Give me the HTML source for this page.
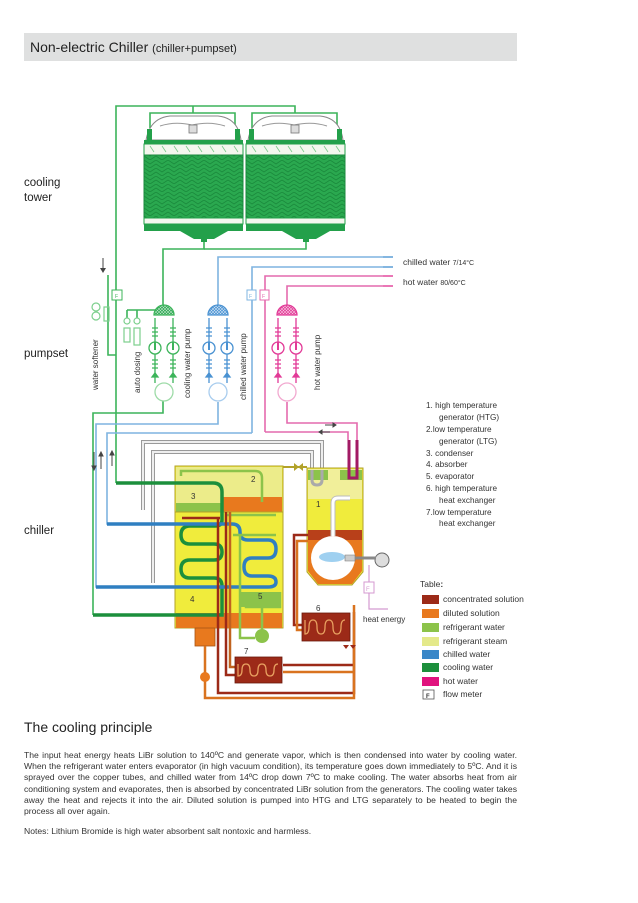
<!DOCTYPE html>
<html><head><meta charset="utf-8"><style>
html,body{margin:0;padding:0;background:#fff;}
body{width:638px;height:903px;position:relative;overflow:hidden;font-family:"Liberation Sans",sans-serif;color:#222;}
.hdr{position:absolute;left:24px;top:33px;width:493px;height:28px;background:#dfe0e0;}
.hdr span{position:absolute;left:6px;top:6px;font-size:14px;color:#222;}
.hdr small{font-size:11px;}
.lbl{position:absolute;left:24px;font-size:11.5px;line-height:15px;color:#222;}
.t2{position:absolute;left:24px;top:719px;font-size:14px;color:#222;}
.para{position:absolute;left:24px;top:750px;width:493px;font-size:8.6px;line-height:11.2px;text-align:justify;text-align-last:left;color:#333;}
.notes{position:absolute;left:24px;top:826px;font-size:8.6px;color:#333;}
svg{position:absolute;left:0;top:0;}
</style></head><body>
<div class="hdr"><span>Non-electric Chiller <small>(chiller+pumpset)</small></span></div>
<div class="lbl" style="top:176px">cooling<br>tower</div>
<div class="lbl" style="top:347px">pumpset</div>
<div class="lbl" style="top:524px">chiller</div>

<svg width="638" height="903" viewBox="0 0 638 903" font-family="Liberation Sans, sans-serif">
<defs>
<pattern id="chev" width="12" height="8" patternUnits="userSpaceOnUse">
<rect width="12" height="8" fill="#2aa84f"/>
<path d="M0 0 L6 4 L12 0 M0 4 L6 8 L12 4" stroke="#1a8a3c" stroke-width="0.8" fill="none"/>
</pattern>
<pattern id="hatchg" width="3" height="3" patternUnits="userSpaceOnUse"><rect width="3" height="3" fill="#2aa552"/><path d="M0 0L3 3M3 0L0 3" stroke="#bfe8c8" stroke-width=".6"/></pattern>
<pattern id="hatchb" width="3" height="3" patternUnits="userSpaceOnUse"><rect width="3" height="3" fill="#4a92d2"/><path d="M0 0L3 3M3 0L0 3" stroke="#cfe3f5" stroke-width=".6"/></pattern>
<pattern id="hatchp" width="3" height="3" patternUnits="userSpaceOnUse"><rect width="3" height="3" fill="#e23a97"/><path d="M0 0L3 3M3 0L0 3" stroke="#f8c8e2" stroke-width=".6"/></pattern>
</defs>

<g fill="none" stroke="#3cb45a" stroke-width="1.6">
<path d="M116 483 V106 H295 V113"/>
<path d="M193 106 V113"/>
<path d="M150 128 V113 H235 V128"/>
<path d="M252 128 V113 H337 V128"/>
<path d="M204 240 V249 H163 V305"/>
<path d="M306 240 V249 H204"/>
</g>

<g id="tw">
<path d="M146 140 Q150 118 170 116 H218 Q238 118 241 140 Z" fill="#fff" stroke="#888" stroke-width="1"/>
<path d="M160 126 Q175 121 192 125 Q210 121 225 126" fill="none" stroke="#999" stroke-width="1"/>
<rect x="189" y="125" width="8" height="8" fill="#ddd" stroke="#777" stroke-width=".8"/>
<rect x="147" y="129" width="5" height="12" fill="#23a04a"/>
<rect x="235" y="129" width="5" height="12" fill="#23a04a"/>
<rect x="144" y="140" width="99" height="4" fill="#23a04a"/>
<rect x="144" y="144" width="99" height="11" fill="#f4f7ee" stroke="#23a04a" stroke-width="1"/>
<path d="M150 146 l4 6 M162 146 l4 6 M174 146 l4 6 M186 146 l4 6 M198 146 l4 6 M210 146 l4 6 M222 146 l4 6 M234 146 l4 6" stroke="#7bc78a" stroke-width=".8"/>
<rect x="144" y="155" width="99" height="63" fill="url(#chev)" stroke="#1b8a3e" stroke-width="1"/>
<rect x="144" y="218" width="99" height="6" fill="#f4f7ee" stroke="#23a04a" stroke-width="1"/>
<rect x="144" y="224" width="99" height="7" fill="#23a04a"/>
<path d="M180 231 L194 239 H214 L228 231 Z" fill="#23a04a"/>
<rect x="201" y="238" width="6" height="4" fill="#23a04a"/>
</g>
<use href="#tw" x="102"/>

<g fill="none" stroke="#3cb45a" stroke-width="1.6">
<path d="M108 275 V355 H116"/>
<rect x="112" y="290" width="10" height="10" fill="#fff" stroke-width="1"/>
<path d="M93 615 V413 H163 V400"/>
<path d="M93 615 H175"/>
<path d="M116 483 H175"/>
<path d="M127 310 H163 M127 310 V318 M137 310 V318"/>
</g>
<text x="115" y="298" font-size="5" fill="#3cb45a">F</text>
<path d="M103 258 V270" stroke="#444" stroke-width="1"/><path d="M100 268 L103 273 L106 268Z" fill="#444"/>
<g fill="none" stroke="#7ccf8c" stroke-width="1.2">
<circle cx="96" cy="307" r="4"/><circle cx="96" cy="316" r="4"/>
<rect x="104" y="307" width="5" height="14"/>
<circle cx="127" cy="321" r="3"/><circle cx="137" cy="321" r="3"/>
<rect x="124" y="328" width="6" height="14"/><rect x="134" y="328" width="6" height="17"/>
</g>

<g fill="none" stroke-width="1.6">
<path d="M218 305 V257 H393" stroke="#7fb4e0"/>
<path d="M252 433 V267 H393" stroke="#7fb4e0"/>
<path d="M265 432 V276 H393" stroke="#e46aae"/>
<path d="M287 305 V286 H393" stroke="#e46aae"/>
<path d="M218 402 V424 H96 V587 H175" stroke="#7fb4e0"/>
<path d="M252 433 H107 V524 H175" stroke="#7fb4e0"/>
<path d="M287 402 V423 H357 V440" stroke="#e46aae"/>
<path d="M265 432 H348 V440" stroke="#e46aae"/>
</g>
<g fill="#fff" stroke-width="1"><rect x="247" y="290" width="9" height="10" stroke="#7fb4e0"/><rect x="260" y="290" width="9" height="10" stroke="#e46aae"/></g>
<text x="249" y="298" font-size="5" fill="#7fb4e0">F</text><text x="262" y="298" font-size="5" fill="#e46aae">F</text>
<g stroke-width="1"><path d="M383 257h10M383 267h10" stroke="#4a92d2"/><path d="M383 276h10M383 286h10" stroke="#e23a97"/></g>
<text x="403" y="265" font-size="8.5" fill="#333">chilled water <tspan font-size="7">7/14°C</tspan></text>
<text x="403" y="285" font-size="8.5" fill="#333">hot water <tspan font-size="7">80/60°C</tspan></text>

<g fill="none" stroke="#3cb45a" stroke-width="1.3">
<path d="M154 315 A10 10 0 0 1 174 315 Z" fill="url(#hatchg)"/>
<path d="M155 318 V383 M173 318 V383"/>
<path d="M152 328h6M152 332h6M152 336h6M170 328h6M170 332h6M170 336h6M152 360h6M152 364h6M152 368h6M170 360h6M170 364h6M170 368h6"/>
<circle cx="155" cy="348" r="6" fill="#fff"/><circle cx="173" cy="348" r="6" fill="#fff"/>
<path d="M155 342v8M173 342v8" stroke-width="2"/>
<path d="M152 377l3-4 3 4zM170 377l3-4 3 4z" fill="#3cb45a"/>
<circle cx="164" cy="392" r="9" stroke="#9edba8" fill="#fff"/>
</g>
<g fill="none" stroke="#4a92d2" stroke-width="1.3" transform="translate(54 0)">
<path d="M154 315 A10 10 0 0 1 174 315 Z" fill="url(#hatchb)"/>
<path d="M155 318 V383 M173 318 V383"/>
<path d="M152 328h6M152 332h6M152 336h6M170 328h6M170 332h6M170 336h6M152 360h6M152 364h6M152 368h6M170 360h6M170 364h6M170 368h6"/>
<circle cx="155" cy="348" r="6" fill="#fff"/><circle cx="173" cy="348" r="6" fill="#fff"/>
<path d="M155 342v8M173 342v8" stroke-width="2"/>
<path d="M152 377l3-4 3 4zM170 377l3-4 3 4z" fill="#4a92d2"/>
<circle cx="164" cy="392" r="9" stroke="#a9cdee" fill="#fff"/>
</g>
<g fill="none" stroke="#e23a97" stroke-width="1.3" transform="translate(123 0)">
<path d="M154 315 A10 10 0 0 1 174 315 Z" fill="url(#hatchp)"/>
<path d="M155 318 V383 M173 318 V383"/>
<path d="M152 328h6M152 332h6M152 336h6M170 328h6M170 332h6M170 336h6M152 360h6M152 364h6M152 368h6M170 360h6M170 364h6M170 368h6"/>
<circle cx="155" cy="348" r="6" fill="#fff"/><circle cx="173" cy="348" r="6" fill="#fff"/>
<path d="M155 342v8M173 342v8" stroke-width="2"/>
<path d="M152 377l3-4 3 4zM170 377l3-4 3 4z" fill="#e23a97"/>
<circle cx="164" cy="392" r="9" stroke="#f2a9d0" fill="#fff"/>
</g>

<g font-size="8" fill="#333">
<text transform="translate(98 390) rotate(-90)">water softener</text>
<text transform="translate(140 393) rotate(-90)">auto dosing</text>
<text transform="translate(190 398) rotate(-90)">cooling water pump</text>
<text transform="translate(246 400) rotate(-90)">chilled water pump</text>
<text transform="translate(320 390) rotate(-90)">hot water pump</text>
</g>

<g fill="#444" stroke="#444" stroke-width="1">
<path d="M94 452v14M101 455v14M112 452v14" fill="none"/>
<path d="M92 466l2 4 2-4zM99 456l2-4 2 4zM110 455l2-4 2 4z"/>
<path d="M325 425h8M322 432h8" /><path d="M333 423l3 2-3 2zM322 430l-3 2 3 2z"/>
</g>

<g fill="none" stroke="#9a9a9a" stroke-width="4"><path d="M322 480 V442 H143 V510"/><path d="M312 480 V452 H153 V583"/></g>
<g fill="none" stroke="#eee" stroke-width="2"><path d="M322 480 V442 H143 V510"/><path d="M312 480 V452 H153 V583"/></g>

<rect x="175" y="466" width="108" height="162" fill="#f0ec3c" stroke="#b2a22a" stroke-width="1"/>
<rect x="176" y="467" width="106" height="40" fill="#ecec8a"/>
<rect x="176" y="503" width="46" height="9" fill="#8cc34a"/>
<rect x="222" y="497" width="60" height="15" fill="#e8791e"/>
<path d="M175 512 H283" stroke="#b2a22a" stroke-width="1"/>
<rect x="176" y="613" width="106" height="15" fill="#e8791e"/>
<rect x="195" y="628" width="20" height="18" fill="#e8791e" stroke="#a65416" stroke-width=".8"/>
<path d="M307 468 H363 V572 L352 585 H318 L307 572 Z" fill="#f0ec3c" stroke="#b2a22a" stroke-width="1"/>
<rect x="308" y="469" width="54" height="30" fill="#f1ef9a"/>
<path d="M308 470 H328 V480 H308Z M340 470 H362 V480 H340Z" fill="#8cc34a"/>
<path d="M308 530 H362 V571 L352 584 H318 L308 571Z" fill="#e8791e"/>
<rect x="308" y="530" width="54" height="10" fill="#b8401a"/>
<circle cx="333" cy="558" r="22" fill="#fff"/>
<ellipse cx="332" cy="557" rx="13" ry="5" fill="#9fd0f0"/>
<path d="M345 555 h10 v6 h-10z" fill="#ccc" stroke="#777" stroke-width=".6"/>
<path d="M333 536 V503 Q333 498 338 498 H350" fill="none" stroke="#bbb" stroke-width="5"/>
<path d="M333 536 V503 Q333 498 338 498 H350" fill="none" stroke="#fff" stroke-width="3"/>
<circle cx="382" cy="560" r="7" fill="#ddd" stroke="#666" stroke-width="1"/>
<path d="M355 558 H376" stroke="#888" stroke-width="3"/>
<path d="M369 565 V582 M369 593 V609 H388" stroke="#d49ad0" stroke-width="1.2" fill="none"/>
<rect x="364" y="582" width="10" height="11" fill="#fff" stroke="#d49ad0"/>
<text x="366" y="591" font-size="6" fill="#d49ad0">F</text>
<path d="M349 440 V478 H357 V440" fill="none" stroke="#a21a64" stroke-width="3"/>
<path d="M312 470 V480 Q312 485 317 485 Q322 485 322 480 V470" fill="none" stroke="#aaa" stroke-width="3"/>

<g fill="none" stroke="#1c8f3c" stroke-width="3.5">
<path d="M116 483 H213 Q222 483 222 492 V520 Q222 526 215 526 H190 Q181 526 181 535 Q181 544 190 544 H214 Q222 544 222 552 Q222 560 214 560 H190 Q181 560 181 569 Q181 578 190 578 H214 Q222 578 222 586 V615 H93"/>
</g>
<g fill="none" stroke="#2f7fc1" stroke-width="3.5">
<path d="M107 524 H232 Q240 524 240 532 Q240 540 248 540 H268 Q276 540 276 549 Q276 558 268 558 H252 Q244 558 244 567 Q244 576 252 576 H268 Q276 576 276 582 Q276 587 268 587 H96"/>
</g>
<g fill="none" stroke="#8cc34a" stroke-width="2.5">
<path d="M181 476 V471 H255 Q262 471 262 478 V502"/>
<path d="M227 515 H276 M233 535 H276 M240 535 V638 H255"/>
<path d="M246 592 V607 H280 V592 M262 607 V630"/>
</g>
<rect x="241" y="592" width="40" height="15" fill="#8cc34a"/>
<circle cx="262" cy="636" r="7" fill="#8cc34a"/>
<path d="M283 467 H307" stroke="#b2a22a" stroke-width="2"/>
<path d="M294 463 l5 4 -5 4z M303 463 l-5 4 5 4z" fill="#b2a22a"/>
<g fill="none" stroke-width="2.5">
<path d="M182 518 H220 M218 518 V693 H354 V612" stroke="#9c2a18"/>
<path d="M226 512 V675 H235 M283 665 H354" stroke="#9c2a18"/>
<path d="M230 512 V667 H235" stroke="#c0621e"/>
<path d="M205 646 V698 H354 V605 M283 672 H354" stroke="#d9731f"/>
<path d="M302 625 H294 V535 H308" stroke="#9c2a18"/>
<path d="M302 630 H297 V541 H308" stroke="#d9731f"/>
</g>
<circle cx="205" cy="677" r="5" fill="#e8791e"/>
<rect x="302" y="613" width="48" height="28" fill="#9c2a18" stroke="#6a1a0c" stroke-width=".8"/>
<path d="M305 620 v14 q4 0 4 -7 t4 -7 t4 7 t4 7 t4 -7 t4 -7 t4 7 t4 7 t4 -7 t4 -7" fill="none" stroke="#e8a060" stroke-width="1.3"/>
<rect x="235" y="657" width="47" height="26" fill="#9c2a18" stroke="#6a1a0c" stroke-width=".8"/>
<path d="M238 664 v12 q4 0 4 -6 t4 -6 t4 6 t4 6 t4 -6 t4 -6 t4 6 t4 6 t4 -6 t4 -6" fill="none" stroke="#e8a060" stroke-width="1.3"/>
<path d="M343 645l3 4 3-4zM350 645l3 4 3-4z" fill="#9c2a18"/>

<g font-size="8" fill="#333">
<text x="251" y="482">2</text><text x="191" y="499">3</text><text x="316" y="507">1</text>
<text x="190" y="602">4</text><text x="258" y="599">5</text><text x="316" y="611">6</text><text x="244" y="654">7</text>
<text x="363" y="622">heat energy</text>
</g>

<g font-size="8.2" fill="#333">
<text x="426" y="408">1. high temperature</text>
<text x="439" y="420">generator (HTG)</text>
<text x="426" y="432">2.low temperature</text>
<text x="439" y="444">generator (LTG)</text>
<text x="426" y="456">3. condenser</text>
<text x="426" y="467">4. absorber</text>
<text x="426" y="479">5. evaporator</text>
<text x="426" y="491">6. high temperature</text>
<text x="439" y="503">heat exchanger</text>
<text x="426" y="515">7.low temperature</text>
<text x="439" y="526">heat exchanger</text>
</g>
<text x="420" y="587" font-size="8.5" fill="#333">Table<tspan font-weight="bold">:</tspan></text>
<g>
<rect x="422" y="595" width="17" height="9" fill="#9c2a18"/>
<rect x="422" y="609" width="17" height="9" fill="#e8791e"/>
<rect x="422" y="623" width="17" height="9" fill="#8cc34a"/>
<rect x="422" y="637" width="17" height="9" fill="#e4e98a"/>
<rect x="422" y="650" width="17" height="9" fill="#3a87c8"/>
<rect x="422" y="663" width="17" height="9" fill="#1c8f3c"/>
<rect x="422" y="677" width="17" height="9" fill="#e0137e"/>
<rect x="423" y="690" width="11" height="9" fill="#fff" stroke="#555" stroke-width=".8"/>
</g>
<text x="426" y="698" font-size="6" font-weight="bold" fill="#333">F</text>
<g font-size="8.5" fill="#333">
<text x="443" y="602">concentrated solution</text>
<text x="443" y="616">diluted solution</text>
<text x="443" y="630">refrigerant water</text>
<text x="443" y="644">refrigerant steam</text>
<text x="443" y="657">chilled water</text>
<text x="443" y="670">cooling water</text>
<text x="443" y="684">hot water</text>
<text x="443" y="697">flow meter</text>
</g>
</svg>

<div class="t2">The cooling principle</div>
<div class="para">The input heat energy heats LiBr solution to 140ºC and generate vapor, which is then  condensed into water by cooling water. When the refrigerant water enters evaporator (in high vacuum condition), its temperature goes down immediately to 5ºC. And it is sprayed over the copper tubes, and chilled water from 14ºC drop down 7ºC to make cooling. The water absorbs heat from air conditioning system and evaporates, then is absorbed by concentrated LiBr solution from the generators. The cooling water takes away the heat and rejects it into the air. Diluted solution is pumped into HTG and LTG separately to be heated to begin the process all over again.</div>
<div class="notes">Notes: Lithium Bromide is high water absorbent salt nontoxic and harmless.</div>
</body></html>
